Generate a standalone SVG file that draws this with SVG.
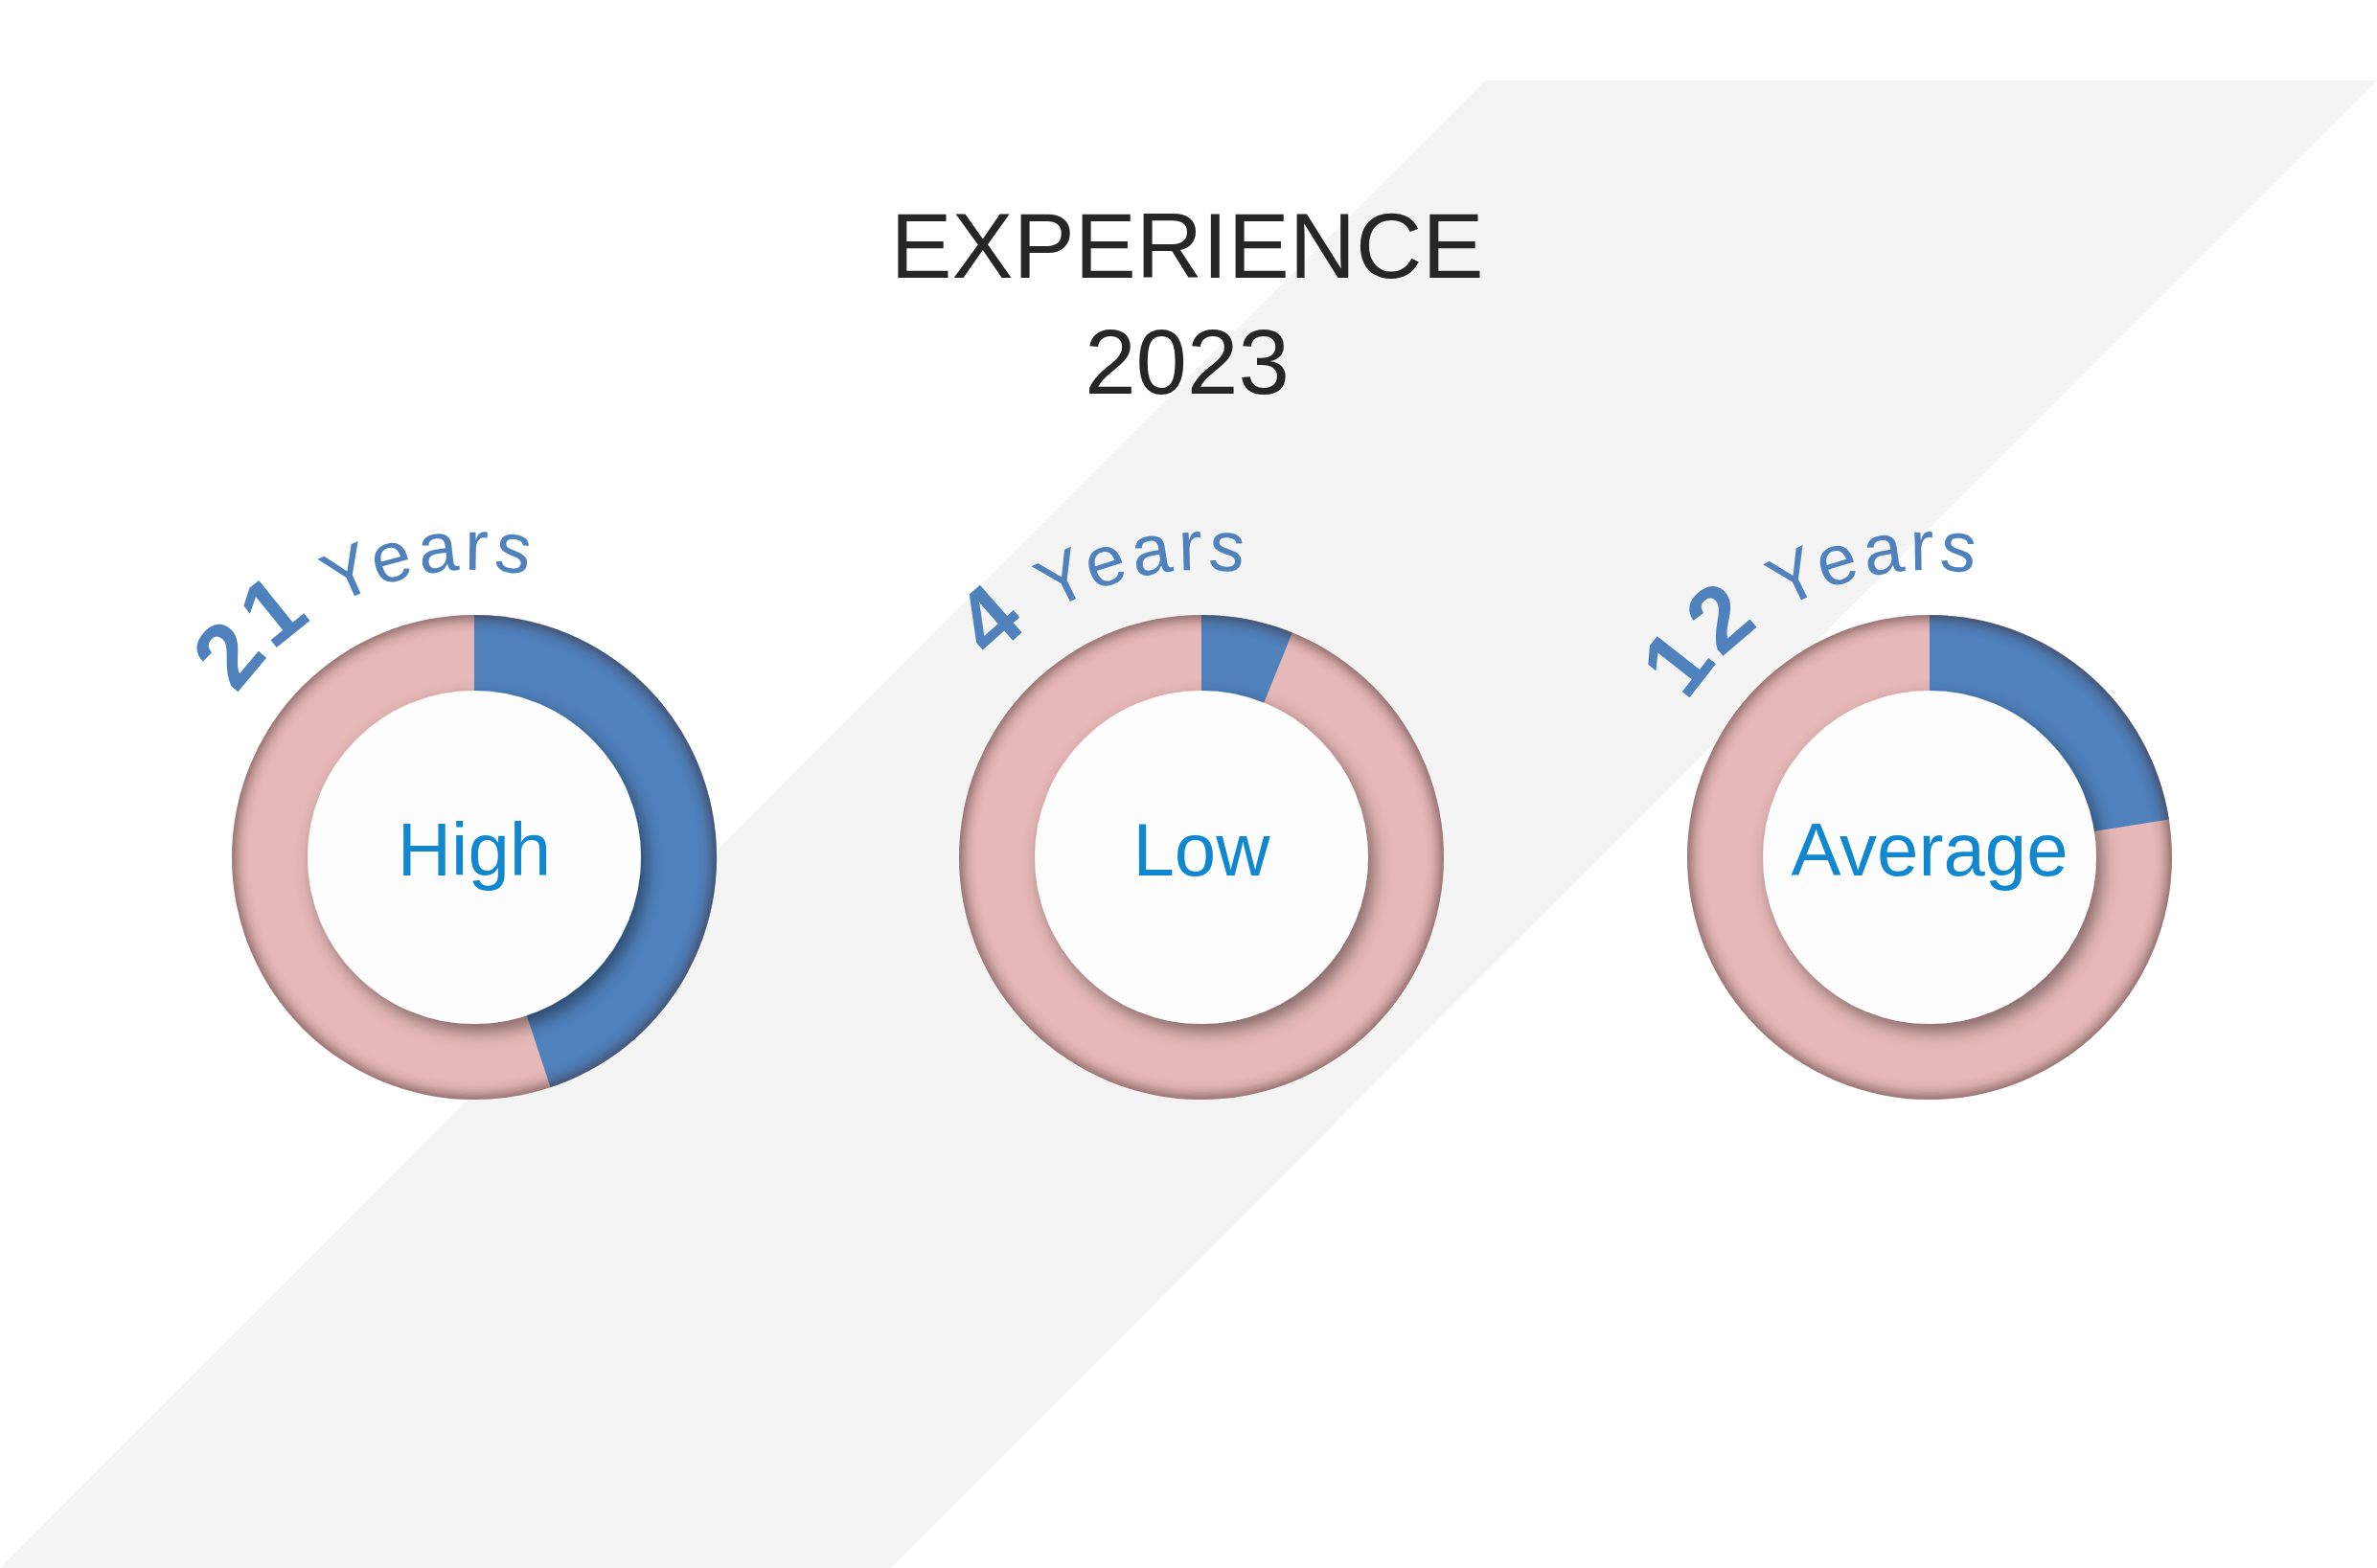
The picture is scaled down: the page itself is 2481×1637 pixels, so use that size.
<svg xmlns="http://www.w3.org/2000/svg" width="2481" height="1637" viewBox="0 0 2481 1637">
<style>
.title{font-family:"Liberation Sans",Arial,sans-serif;font-size:96px;fill:#262626;text-anchor:middle}
.lbl{font-family:"Liberation Sans",Arial,sans-serif;font-size:78px;fill:#1187cf;text-anchor:middle}
.yrs{font-family:"Liberation Sans",Arial,sans-serif;font-size:74px;fill:#4f81bd;letter-spacing:5px}
.num{font-size:96px;font-weight:bold}
.pink{fill:#e6b8b7}.blue{fill:#4f81bd}
.rim{fill:none;stroke:#3a2424;stroke-width:26;opacity:0.6}
</style>
<defs>
<filter id="ds" x="-30%" y="-30%" width="160%" height="160%"><feDropShadow dx="6" dy="8" stdDeviation="9" flood-color="#000" flood-opacity="0.45"/></filter>
<filter id="bl" x="-10%" y="-10%" width="120%" height="120%"><feGaussianBlur stdDeviation="7"/></filter>
<clipPath id="c1"><circle cx="495" cy="895" r="253"/></clipPath>
<clipPath id="c2"><circle cx="1254" cy="895" r="253"/></clipPath>
<clipPath id="c3"><circle cx="2014" cy="895" r="253"/></clipPath>
<path id="a1" d="M195,895 A300,300 0 0 1 795,895"/>
<path id="a2" d="M954,895 A300,300 0 0 1 1554,895"/>
<path id="a3" d="M1714,895 A300,300 0 0 1 2314,895"/>
</defs>
<polygon points="1550,84 2481,84 930,1637 0,1637" fill="#f4f4f4"/>
<text class="title" x="1239" y="290">EXPERIENCE</text>
<text class="title" x="1239" y="411">2023</text>

<g id="donut1">
<circle class="pink" cx="495" cy="895" r="253"/>
<path class="blue" d="M495,895 L495,642 A253,253 0 0 1 574.6,1135.2 Z"/>
<g clip-path="url(#c1)"><circle class="rim" cx="495" cy="895" r="262" filter="url(#bl)"/></g>
<circle cx="495" cy="895" r="174" fill="#fdfdfd" filter="url(#ds)"/>
<text class="lbl" x="495" y="914">High</text>
<text class="yrs"><textPath href="#a1" startOffset="180"><tspan class="num">21</tspan> Years</textPath></text>
</g>

<g id="donut2">
<circle class="pink" cx="1254" cy="895" r="253"/>
<path class="blue" d="M1254,895 L1254,642 A253,253 0 0 1 1348.8,660.4 Z"/>
<g clip-path="url(#c2)"><circle class="rim" cx="1254" cy="895" r="262" filter="url(#bl)"/></g>
<circle cx="1254" cy="895" r="174" fill="#fdfdfd" filter="url(#ds)"/>
<text class="lbl" x="1254" y="914">Low</text>
<text class="yrs"><textPath href="#a2" startOffset="225"><tspan class="num">4</tspan> Years</textPath></text>
</g>

<g id="donut3">
<circle class="pink" cx="2014" cy="895" r="253"/>
<path class="blue" d="M2014,895 L2014,642 A253,253 0 0 1 2263.9,855.4 Z"/>
<g clip-path="url(#c3)"><circle class="rim" cx="2014" cy="895" r="262" filter="url(#bl)"/></g>
<circle cx="2014" cy="895" r="174" fill="#fdfdfd" filter="url(#ds)"/>
<text class="lbl" x="2014" y="914">Average</text>
<text class="yrs"><textPath href="#a3" startOffset="170"><tspan class="num">12</tspan> Years</textPath></text>
</g>
<g id="connectors"/>
</svg>
